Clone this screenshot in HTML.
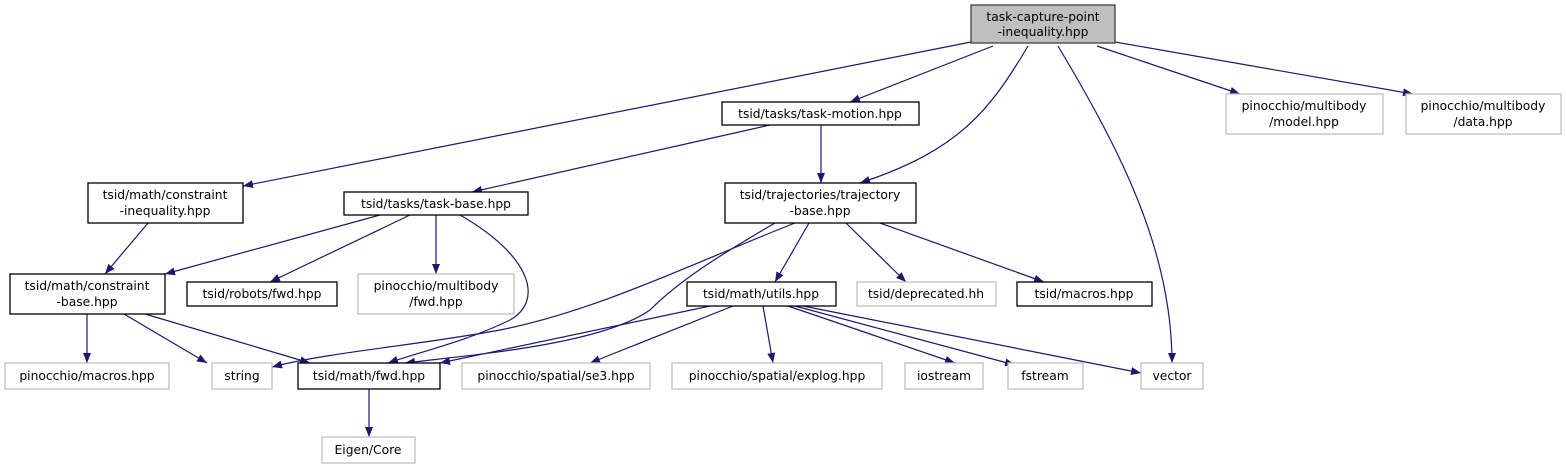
<!DOCTYPE html>
<html><head><meta charset="utf-8"><style>
html,body{margin:0;padding:0;background:#fff;}
svg{display:block;}
text{font-family:"DejaVu Sans","Liberation Sans",sans-serif;font-size:12.3px;fill:#000;text-anchor:middle;}
.b{fill:#fff;stroke:#000;stroke-width:1.3;}
.g{fill:#fff;stroke:#bfbfbf;stroke-width:1.3;}
.e{fill:none;stroke:#191970;stroke-width:1.2;}
</style></head><body>
<svg width="1566" height="469" viewBox="0 0 1566 469" xmlns="http://www.w3.org/2000/svg">
<defs><marker id="a" markerWidth="10" markerHeight="8" refX="10" refY="4" orient="auto" markerUnits="userSpaceOnUse"><path d="M0,0 L10,4 L0,8 Z" fill="#191970"/></marker></defs>
<g marker-end="url(#a)">
<path class="e" d="M971,42 L243,186"/>
<path class="e" d="M993,46 L850,102"/>
<path class="e" d="M1028,46 C990,110 960,150 860,183"/>
<path class="e" d="M1058,46 C1120,150 1172,250 1172,363"/>
<path class="e" d="M1097,46 L1240,94"/>
<path class="e" d="M1115,42 L1413,94"/>
<path class="e" d="M770,125 L472,192"/>
<path class="e" d="M821,125 L821,183"/>
<path class="e" d="M148,223 L105,274"/>
<path class="e" d="M380,215 L165,274"/>
<path class="e" d="M410,215 L270,282"/>
<path class="e" d="M436,215 L436,274"/>
<path class="e" d="M460,215 C530,255 545,300 510,320 C470,340 420,352 388,363"/>
<path class="e" d="M795,223 C700,260 600,310 500,330 C420,345 330,352 272,367"/>
<path class="e" d="M775,223 C720,255 680,280 650,310 C600,345 470,355 405,363"/>
<path class="e" d="M809,223 L775,282"/>
<path class="e" d="M846,223 L906,282"/>
<path class="e" d="M880,223 L1044,282"/>
<path class="e" d="M87,314 L87,363"/>
<path class="e" d="M124,314 L207,363"/>
<path class="e" d="M145,314 L310,363"/>
<path class="e" d="M369,389 L369,437"/>
<path class="e" d="M710,306 L440,363"/>
<path class="e" d="M733,306 L590,363"/>
<path class="e" d="M763,306 L773,363"/>
<path class="e" d="M788,306 L955,363"/>
<path class="e" d="M795,306 L1015,365"/>
<path class="e" d="M803,306 L1141,373"/>
</g>
<rect x="971" y="5" width="144" height="38" fill="#bfbfbf" stroke="#404040" stroke-width="1.3"/>
<text x="1043" y="21">task-capture-point</text><text x="1043" y="36">-inequality.hpp</text>
<rect class="b" x="722" y="102" width="197" height="23"/><text x="820" y="118">tsid/tasks/task-motion.hpp</text>
<rect class="g" x="1226" y="94" width="157" height="40"/><text x="1304" y="110">pinocchio/multibody</text><text x="1304" y="126">/model.hpp</text>
<rect class="g" x="1406" y="94" width="155" height="40"/><text x="1483" y="110">pinocchio/multibody</text><text x="1483" y="126">/data.hpp</text>
<rect class="b" x="88" y="183" width="155" height="40"/><text x="165" y="199">tsid/math/constraint</text><text x="165" y="215">-inequality.hpp</text>
<rect class="b" x="344" y="192" width="184" height="23"/><text x="436" y="208">tsid/tasks/task-base.hpp</text>
<rect class="b" x="725" y="183" width="191" height="40"/><text x="820" y="199">tsid/trajectories/trajectory</text><text x="820" y="215">-base.hpp</text>
<rect class="b" x="10" y="274" width="155" height="40"/><text x="87" y="290">tsid/math/constraint</text><text x="87" y="306">-base.hpp</text>
<rect class="b" x="187" y="282" width="150" height="24"/><text x="262" y="298">tsid/robots/fwd.hpp</text>
<rect class="g" x="358" y="274" width="156" height="40"/><text x="436" y="290">pinocchio/multibody</text><text x="436" y="306">/fwd.hpp</text>
<rect class="b" x="687" y="282" width="149" height="24"/><text x="761" y="298">tsid/math/utils.hpp</text>
<rect class="g" x="857" y="282" width="139" height="24"/><text x="926" y="298">tsid/deprecated.hh</text>
<rect class="b" x="1017" y="282" width="135" height="24"/><text x="1084" y="298">tsid/macros.hpp</text>
<rect class="g" x="5" y="363" width="164" height="26"/><text x="87" y="380">pinocchio/macros.hpp</text>
<rect class="g" x="212" y="363" width="60" height="26"/><text x="242" y="380">string</text>
<rect class="b" x="298" y="363" width="142" height="26"/><text x="369" y="380">tsid/math/fwd.hpp</text>
<rect class="g" x="462" y="363" width="188" height="26"/><text x="556" y="380">pinocchio/spatial/se3.hpp</text>
<rect class="g" x="672" y="363" width="210" height="26"/><text x="777" y="380">pinocchio/spatial/explog.hpp</text>
<rect class="g" x="905" y="363" width="78" height="26"/><text x="944" y="380">iostream</text>
<rect class="g" x="1008" y="363" width="75" height="26"/><text x="1045" y="380">fstream</text>
<rect class="g" x="1141" y="363" width="62" height="26"/><text x="1172" y="380">vector</text>
<rect class="g" x="322" y="437" width="93" height="26"/><text x="368" y="454">Eigen/Core</text>
</svg>
</body></html>
